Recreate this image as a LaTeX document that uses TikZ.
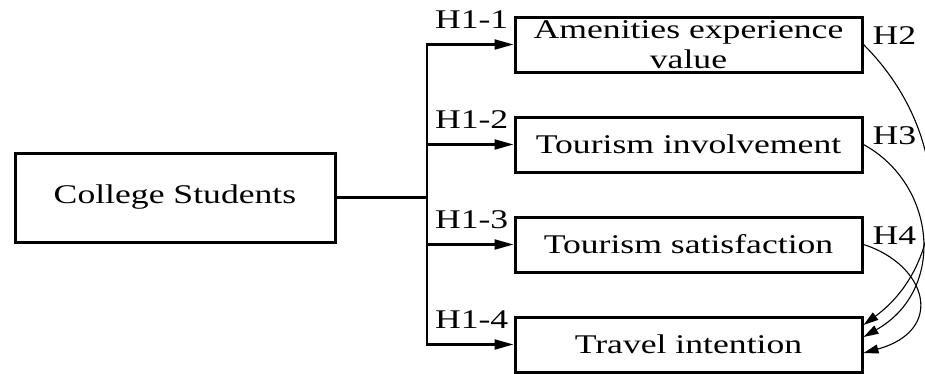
\documentclass[tikz,border=0pt]{standalone}
\usepackage{fontspec}
\setmainfont{Liberation Serif}[FakeStretch=1.32]
\usetikzlibrary{arrows.meta}

\begin{document}
\begin{tikzpicture}[x=1pt,y=-1pt,
  every node/.style={font=\fontsize{27}{30}\selectfont},
  box/.style={draw,line width=3pt,inner sep=0pt,minimum width=347pt,minimum height=55pt,align=center},
  hlab/.style={inner sep=0pt},
  link/.style={line width=2.1pt,-{Triangle[length=19pt,width=10pt]}},
  effect/.style={line width=1.1pt,-{Triangle[length=15pt,width=9pt]}}]
  \useasboundingbox[fill=white] (0,0) rectangle (925,373);
  %source
  \node[box,minimum width=320pt,minimum height=89pt] (cs) at (175,197.5) {College Students};
  %mediators
  \node[box] (av) at (688.5,44.5) {Amenities experience\\value};
  \node[box] (ti) at (688.5,144.5) {Tourism involvement};
  \node[box] (ts) at (688.5,244.5) {Tourism satisfaction};
  \node[box] (tv) at (688.5,344.5) {Travel intention};
  %branching
  \coordinate (bus) at (427,197.5);
  \draw[line width=2.1pt] (cs.east) -- (bus);
  \foreach \n/\t in {av/H1-1,ti/H1-2,ts/H1-3,tv/H1-4}{
    \draw[link] (bus) |- (\n.west);
    \node[hlab,anchor=base east] (lab-\n) at ([xshift=-5pt,yshift=16pt]\n.west) {\t};
  }
  %effects on travel intention
  \foreach \n/\t in {av/H2,ti/H3,ts/H4}
    \node[hlab,anchor=base west] (h-\n) at ([xshift=9pt]\n.east) {\t};
  \draw[effect] (av.east) .. controls +(88,88) and +(88,-65) .. ([yshift=19.5pt]tv.east);
  \draw[effect] (ti.east) .. controls +(73,40) and +(83,-47) .. ([yshift=7.5pt]tv.east);
  \draw[effect] (ts.east) .. controls +(63,20) and +(83,-23) .. ([yshift=-8.5pt]tv.east);
\end{tikzpicture}
\end{document}
